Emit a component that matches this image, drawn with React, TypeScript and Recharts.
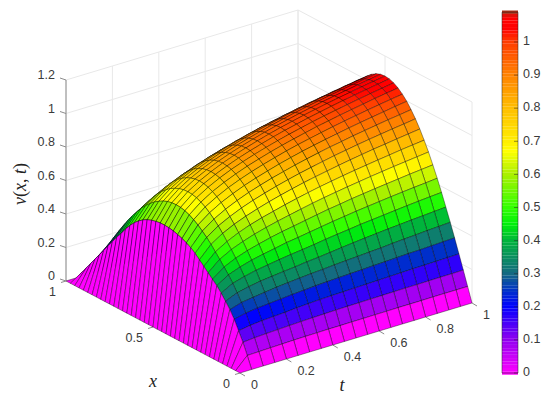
import { Scatter, ScatterChart, XAxis, YAxis } from 'recharts';

const xGrid = [0, 0.025, 0.05, 0.075, 0.1, 0.125, 0.15, 0.175, 0.2, 0.225, 0.25, 0.275, 0.3, 0.325, 0.35, 0.375, 0.4, 0.425, 0.45, 0.475, 0.5, 0.525, 0.55, 0.575, 0.6, 0.625, 0.65, 0.675, 0.7, 0.725, 0.75, 0.775, 0.8, 0.825, 0.85, 0.875, 0.9, 0.925, 0.95, 0.975, 1];
const tGrid = [0, 0.05, 0.1, 0.15, 0.2, 0.25, 0.3, 0.35, 0.4, 0.45, 0.5, 0.55, 0.6, 0.65, 0.7, 0.75, 0.8, 0.85, 0.9, 0.95, 1];

// v(x, t), one row per t
const vRows = [
  [0,0,0,0,0,0,0,0,0,0,0,0,0,0,0,0,0,0,0,0,0,0,0,0,0,0,0,0,0,0,0,0,0,0,0,0,0,0,0,0,0],
  [0,.07,.135,.19,.245,.289,.325,.36,.39,.415,.44,.465,.49,.515,.535,.55,.563,.572,.58,.585,.587,.587,.582,.575,.565,.55,.53,.505,.475,.44,.4,.365,.325,.285,.245,.205,.165,.125,.085,.045,0],
  [0,.072,.141,.201,.261,.31,.354,.397,.434,.467,.499,.53,.561,.589,.613,.636,.654,.669,.68,.686,.688,.686,.68,.669,.654,.636,.613,.587,.557,.523,.486,.447,.404,.359,.312,.263,.213,.161,.108,.054,0],
  [0,.074,.145,.208,.27,.32,.37,.417,.46,.499,.537,.571,.606,.637,.664,.688,.709,.724,.736,.743,.745,.743,.736,.724,.709,.688,.664,.635,.603,.566,.527,.484,.438,.389,.338,.285,.23,.174,.117,.058,0],
  [0,.076,.148,.212,.276,.329,.382,.433,.48,.523,.564,.603,.64,.672,.702,.728,.749,.766,.778,.786,.788,.786,.778,.766,.749,.728,.702,.672,.638,.599,.557,.512,.463,.412,.358,.302,.243,.184,.123,.062,0],
  [0,.078,.151,.216,.282,.338,.39,.444,.495,.542,.587,.629,.667,.702,.733,.76,.783,.8,.813,.82,.823,.82,.813,.8,.783,.76,.733,.702,.666,.626,.582,.534,.484,.43,.374,.315,.254,.192,.129,.065,0],
  [0,.079,.154,.222,.288,.345,.398,.455,.508,.559,.606,.65,.69,.727,.76,.788,.811,.829,.843,.85,.853,.85,.843,.829,.811,.788,.76,.727,.69,.649,.603,.554,.501,.446,.387,.326,.264,.199,.133,.067,0],
  [0,.08,.156,.226,.293,.351,.405,.465,.522,.574,.623,.668,.711,.749,.783,.812,.836,.855,.868,.876,.879,.876,.868,.855,.836,.812,.783,.749,.711,.668,.622,.571,.517,.459,.399,.336,.272,.205,.137,.069,0],
  [0,.081,.158,.23,.298,.357,.414,.473,.532,.586,.638,.686,.73,.769,.804,.833,.858,.877,.891,.899,.902,.899,.891,.877,.858,.833,.804,.769,.73,.686,.638,.586,.53,.471,.41,.345,.279,.211,.141,.071,0],
  [0,.081,.16,.232,.302,.362,.42,.482,.543,.599,.653,.702,.747,.787,.822,.853,.878,.898,.912,.92,.923,.92,.912,.898,.878,.853,.822,.787,.747,.702,.653,.599,.543,.482,.419,.353,.285,.215,.144,.072,0],
  [0,.082,.161,.234,.305,.367,.428,.493,.554,.612,.667,.717,.763,.804,.84,.871,.897,.917,.931,.94,.943,.94,.931,.917,.897,.871,.84,.804,.763,.717,.667,.612,.554,.493,.428,.361,.291,.22,.147,.074,0],
  [0,.082,.162,.236,.308,.372,.436,.502,.565,.624,.68,.731,.777,.819,.856,.888,.914,.934,.949,.958,.961,.958,.949,.934,.914,.888,.856,.819,.777,.731,.68,.624,.565,.502,.436,.368,.297,.224,.15,.075,0],
  [0,.083,.163,.238,.311,.376,.444,.51,.574,.634,.691,.743,.79,.833,.871,.903,.929,.95,.965,.974,.977,.974,.965,.95,.929,.903,.871,.833,.79,.743,.691,.634,.574,.51,.444,.374,.302,.228,.153,.077,0],
  [0,.083,.164,.24,.314,.381,.451,.519,.584,.645,.702,.755,.803,.847,.885,.917,.944,.966,.981,.99,.993,.99,.981,.966,.944,.917,.885,.847,.803,.755,.702,.645,.584,.519,.451,.38,.307,.232,.155,.078,0],
  [0,.084,.165,.242,.317,.385,.457,.526,.592,.654,.712,.766,.815,.859,.897,.93,.958,.979,.995,1.004,1.007,1.004,.995,.979,.958,.93,.897,.859,.815,.766,.712,.654,.592,.526,.457,.385,.311,.235,.157,.079,0],
  [0,.084,.166,.244,.32,.391,.464,.533,.6,.663,.722,.776,.826,.871,.91,.943,.971,.993,1.008,1.018,1.021,1.018,1.008,.993,.971,.943,.91,.871,.826,.776,.722,.663,.6,.533,.464,.391,.315,.238,.16,.08,0],
  [0,.084,.166,.246,.323,.396,.469,.54,.608,.671,.731,.786,.837,.882,.921,.955,.983,1.005,1.021,1.031,1.034,1.031,1.021,1.005,.983,.955,.921,.882,.837,.786,.731,.671,.608,.54,.469,.396,.32,.241,.162,.081,0],
  [0,.085,.167,.247,.325,.4,.475,.547,.615,.679,.74,.795,.846,.892,.932,.966,.995,1.017,1.033,1.043,1.046,1.043,1.033,1.017,.995,.966,.932,.892,.846,.795,.74,.679,.615,.547,.475,.4,.323,.244,.164,.082,0],
  [0,.085,.168,.249,.328,.405,.48,.553,.622,.687,.748,.805,.856,.902,.943,.977,1.006,1.029,1.045,1.055,1.058,1.055,1.045,1.029,1.006,.977,.943,.902,.856,.805,.748,.687,.622,.553,.48,.405,.327,.247,.165,.083,0],
  [0,.085,.168,.25,.331,.409,.485,.559,.628,.694,.756,.813,.865,.911,.952,.988,1.017,1.04,1.056,1.066,1.069,1.066,1.056,1.04,1.017,.988,.952,.911,.865,.813,.756,.694,.628,.559,.485,.409,.33,.25,.167,.084,0],
  [0,.085,.169,.252,.334,.413,.49,.564,.635,.701,.764,.821,.874,.921,.962,.998,1.027,1.05,1.067,1.077,1.08,1.077,1.067,1.05,1.027,.998,.962,.921,.874,.821,.764,.701,.635,.564,.49,.413,.334,.252,.169,.085,0],
];

const zTicks = [0, 0.2, 0.4, 0.6, 0.8, 1, 1.2];
const tTicks = [0, 0.2, 0.4, 0.6, 0.8, 1];
const xTicks = [0, 0.5, 1];
const barTicks = [0, 0.1, 0.2, 0.3, 0.4, 0.5, 0.6, 0.7, 0.8, 0.9, 1];
const barMax = 1.09;

const colorValues = [0, 0.1, 0.2, 0.25, 0.3, 0.4, 0.45, 0.5, 0.6, 0.67, 0.7, 0.8, 0.9, 1, 1.04, 1.075, 1.09];
const colorStops = [
  [255, 0, 255], [145, 0, 240], [0, 0, 255], [0, 50, 200], [20, 105, 130], [0, 180, 60], [0, 240, 10], [50, 255, 0],
  [170, 240, 0], [255, 255, 0], [255, 238, 0], [255, 190, 0], [255, 130, 0], [255, 60, 0], [255, 0, 0], [255, 0, 0], [170, 45, 20],
];

const colorAt = (v: number) => {
  const i = colorValues.findIndex((c) => c > v);
  if (i === -1) return `rgb(${colorStops[colorStops.length - 1].join(',')})`;
  const f = (v - colorValues[i - 1]) / (colorValues[i] - colorValues[i - 1]);
  const rgb = colorStops[i].map((c, n) => Math.round(colorStops[i - 1][n] + (c - colorStops[i - 1][n]) * f));
  return `rgb(${rgb.join(',')})`;
};

// orthographic view of the box, fitted to the picture's corners
const project = (x: number, t: number, z: number) => ({
  sx: 240 + 232 * t - 174 * x,
  sy: 373 - 70 * t - 92 * x - 167.5 * z,
});

// back to front, so later cells cover earlier ones
const cells: any[] = [];
for (let j = tGrid.length - 2; j >= 0; j--) {
  for (let i = xGrid.length - 2; i >= 0; i--) {
    const corners = [
      project(xGrid[i], tGrid[j], vRows[j][i]),
      project(xGrid[i + 1], tGrid[j], vRows[j][i + 1]),
      project(xGrid[i + 1], tGrid[j + 1], vRows[j + 1][i + 1]),
      project(xGrid[i], tGrid[j + 1], vRows[j + 1][i]),
    ];
    cells.push({ ...corners[0], corners, color: colorAt(vRows[j][i]) });
  }
}

const AXIS_TEXT = '#3a3a3a';
const GRID = '#e8e8e8';
const TICK = '#8c8c8c';
const fontFamily = '"Liberation Sans", Arial, sans-serif';
const mathFont = '"Liberation Serif", serif';

const noPoint = () => <g />;

const CellShape = ({ cx, cy, payload }: any) => (
  <polygon
    points={payload.corners.map((c: any) => `${cx + c.sx - payload.sx},${cy + c.sy - payload.sy}`).join(' ')}
    fill={payload.color}
    stroke="#000"
    strokeOpacity={0.55}
    strokeWidth={0.7}
    strokeLinejoin="round"
  />
);

const TickText = ({ cx, cy, payload }: any) => (
  <text
    x={cx + payload.dx}
    y={cy + payload.dy}
    textAnchor={payload.anchor}
    dominantBaseline="middle"
    fontFamily={fontFamily}
    fontSize={12.5}
    fill={AXIS_TEXT}
  >
    {payload.label}
  </text>
);

const MathText = ({ cx, cy, payload }: any) => (
  <text x={cx} y={cy} textAnchor="middle" dominantBaseline="middle" fontFamily={mathFont} fontSize={18} fontStyle="italic" fill="#222">
    {payload.label}
  </text>
);

const VLabel = ({ cx, cy }: any) => (
  <text
    x={cx}
    y={cy}
    textAnchor="middle"
    dominantBaseline="middle"
    fontFamily={mathFont}
    fontSize={18}
    fill="#222"
    transform={`rotate(-90 ${cx} ${cy})`}
  >
    <tspan fontStyle="italic">v</tspan>(<tspan fontStyle="italic">x</tspan>, <tspan fontStyle="italic">t</tspan>)
  </text>
);

const BarCell = ({ cx, cy, payload }: any) => (
  <rect x={cx - 8} y={cy - 1.7} width={16} height={3.4} fill={payload.color} />
);

const segment = (a: { sx: number; sy: number }, b: { sx: number; sy: number }) => [a, b];

const wallLines = [
  ...zTicks.map((z) => [project(1, 0, z), project(1, 1, z), project(0, 1, z)]),
  ...tTicks.map((t) => segment(project(1, t, 0), project(1, t, 1.2))),
  ...xTicks.map((x) => segment(project(x, 1, 0), project(x, 1, 1.2))),
];

const axisLines = [
  segment(project(1, 0, 0), project(1, 0, 1.2)),
  ...zTicks.map((z) => {
    const p = project(1, 0, z);
    return segment(p, { sx: p.sx - 6, sy: p.sy - 2 });
  }),
  ...xTicks.map((x) => {
    const p = project(x, 0, 0);
    return segment(p, { sx: p.sx - 5, sy: p.sy + 1.5 });
  }),
  ...tTicks.map((t) => {
    const p = project(0, t, 0);
    return segment(p, { sx: p.sx + 5, sy: p.sy + 3 });
  }),
];

const zLabels = zTicks.map((z) => ({ ...project(1, 0, z), label: String(z), dx: -11, dy: -4, anchor: 'end' }));
const xLabels = xTicks.map((x) => ({ ...project(x, 0, 0), label: String(x), dx: -10, dy: 12, anchor: 'end' }));
const tLabels = tTicks.map((t) => ({ ...project(0, t, 0), label: String(t), dx: 11, dy: 13, anchor: 'start' }));

// colorbar, in its own value-to-pixel mapping beside the box
const barX = 510;
const barY = (v: number) => 373 - 331 * v;
const barLevels = Array.from({ length: 110 }, (_, n) => n / 100);
const barCells = barLevels.map((v) => ({ sx: barX, sy: barY(v), color: colorAt(v) }));
const barFrame = [
  { sx: barX - 8, sy: barY(0) },
  { sx: barX + 8, sy: barY(0) },
  { sx: barX + 8, sy: barY(barMax) },
  { sx: barX - 8, sy: barY(barMax) },
  { sx: barX - 8, sy: barY(0) },
];
const barTickLines = barTicks.map((v) => segment({ sx: barX + 8, sy: barY(v) }, { sx: barX + 4, sy: barY(v) }));
const barLabels = barTicks.map((v) => ({ sx: barX + 13, sy: barY(v), label: String(v), dx: 0, dy: 0, anchor: 'start' }));

const axisXLabel = [{ sx: 153, sy: 383, label: 'x' }];
const axisTLabel = [{ sx: 342, sy: 387, label: 't' }];
const axisVLabel = [{ sx: 22, sy: 184 }];

export default function App() {
  return (
    <div style={{ position: 'absolute', left: 0, top: 0, width: 550, height: 405, background: '#fff' }}>
      <ScatterChart width={550} height={405} margin={{ top: 0, right: 0, bottom: 0, left: 0 }}>
        <XAxis type="number" dataKey="sx" domain={[0, 550]} hide />
        <YAxis type="number" dataKey="sy" domain={[0, 405]} reversed hide />
        {wallLines.map((pts, n) => (
          <Scatter key={`wall${n}`} data={pts} shape={noPoint} line={{ stroke: GRID, strokeWidth: 1 }} isAnimationActive={false} />
        ))}
        {axisLines.map((pts, n) => (
          <Scatter key={`axis${n}`} data={pts} shape={noPoint} line={{ stroke: TICK, strokeWidth: 1 }} isAnimationActive={false} />
        ))}
        <Scatter data={cells} shape={CellShape} isAnimationActive={false} />
        <Scatter data={barCells} shape={BarCell} isAnimationActive={false} />
        <Scatter data={barFrame} shape={noPoint} line={{ stroke: '#262626', strokeOpacity: 0.5, strokeWidth: 1 }} isAnimationActive={false} />
        {barTickLines.map((pts, n) => (
          <Scatter key={`bar${n}`} data={pts} shape={noPoint} line={{ stroke: '#262626', strokeOpacity: 0.5, strokeWidth: 1 }} isAnimationActive={false} />
        ))}
        <Scatter data={zLabels} shape={TickText} isAnimationActive={false} />
        <Scatter data={xLabels} shape={TickText} isAnimationActive={false} />
        <Scatter data={tLabels} shape={TickText} isAnimationActive={false} />
        <Scatter data={barLabels} shape={TickText} isAnimationActive={false} />
        <Scatter data={axisXLabel} shape={MathText} isAnimationActive={false} />
        <Scatter data={axisTLabel} shape={MathText} isAnimationActive={false} />
        <Scatter data={axisVLabel} shape={VLabel} isAnimationActive={false} />
      </ScatterChart>
    </div>
  );
}
